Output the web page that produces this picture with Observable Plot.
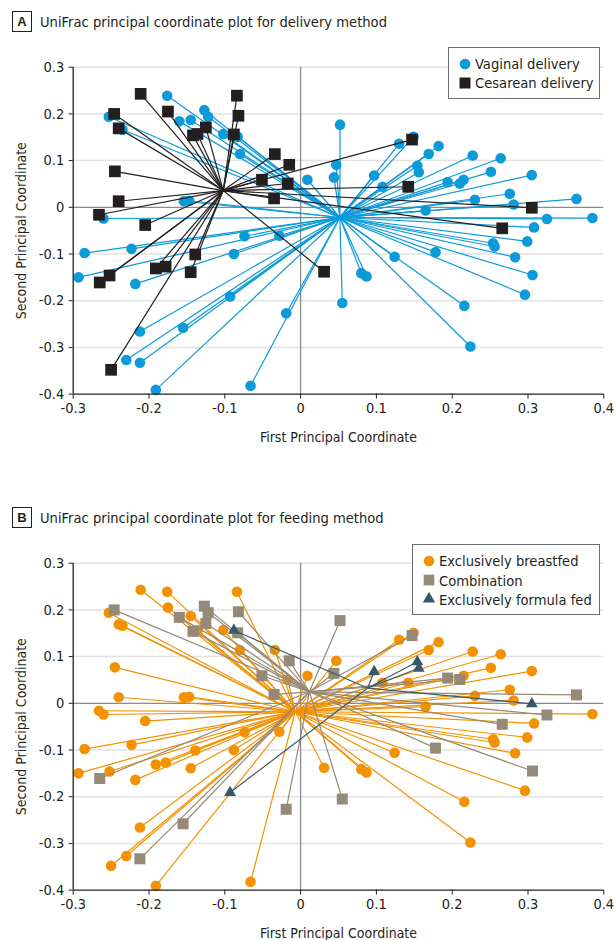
<!DOCTYPE html>
<html>
<head>
<meta charset="utf-8">
<script src="https://cdn.jsdelivr.net/npm/d3@7"></script>
<script src="https://cdn.jsdelivr.net/npm/@observablehq/plot@0.6"></script>
<style>
  html, body { margin: 0; padding: 0; background: #fff; overflow: hidden; }
  #page { position: relative; width: 616px; height: 940px; color: #231f20;
          font-family: "Liberation Sans Narrow", "DejaVu Sans Condensed", "Roboto Condensed", "Open Sans", sans-serif; }
  .chart { position: absolute; left: 0; }
  .hdr { position: absolute; left: 12px; height: 21px; display: flex; align-items: center; }
  .tag { box-sizing: border-box; width: 20px; height: 21px; border: 1.3px solid #231f20; font-weight: bold;
         font-size: 13px; display: flex; align-items: center; justify-content: center; font-family: "Liberation Sans", sans-serif; }
  .ttl { margin-left: 8px; font-size: 14.6px; white-space: nowrap; }
  .legend { position: absolute; box-sizing: border-box; border: 1.3px solid #6d6e71; background: #fff; padding: 6px 6px 5px 9px; }
  .item { display: flex; align-items: center; height: 19.3px; font-size: 14.6px; white-space: nowrap; }
  .item svg { margin-right: 3px; flex-shrink: 0; }
</style>
</head>
<body>
<div id="page"></div>
<script>
// ---- data ----
const deliveryNames = ["Vaginal delivery", "Cesarean delivery"];
const feedingNames = ["Exclusively breastfed", "Combination", "Exclusively formula fed"];
const xTicks = [-0.3, -0.2, -0.1, 0, 0.1, 0.2, 0.3, 0.4];
const yTicks = [-0.4, -0.3, -0.2, -0.1, 0, 0.1, 0.2, 0.3];

// vaginal-delivery samples: first & second principal coordinate, feeding code (0 EBF, 1 combination, 2 formula)
const vaginalX = [-0.176,-0.253,-0.235,-0.160,-0.145,-0.127,-0.122,-0.102,-0.083,-0.080,-0.154,-0.147,-0.260,
  0.009,0.044,0.047,0.052,0.130,0.149,0.182,0.169,0.154,0.156,0.097,0.108,0.227,0.264,0.251,0.305,0.194,0.210,
  0.215,0.276,0.364,0.230,0.281,0.165,0.325,0.385,0.308,0.299,0.254,0.256,0.283,0.178,0.124,0.306,0.296,0.080,
  0.087,0.055,0.216,0.224,-0.285,-0.223,-0.074,-0.028,-0.088,-0.293,-0.218,-0.093,-0.155,-0.212,-0.230,-0.212,
  -0.191,-0.066,-0.019];
const vaginalY = [0.239,0.194,0.166,0.184,0.187,0.208,0.194,0.157,0.151,0.114,0.013,0.014,-0.024,
  0.059,0.064,0.091,0.177,0.136,0.151,0.131,0.114,0.089,0.075,0.068,0.044,0.111,0.105,0.076,0.069,0.054,0.051,
  0.059,0.029,0.018,0.016,0.006,-0.007,-0.025,-0.023,-0.043,-0.073,-0.077,-0.084,-0.107,-0.096,-0.106,-0.145,-0.187,-0.141,
  -0.148,-0.205,-0.211,-0.298,-0.098,-0.089,-0.062,-0.061,-0.100,-0.150,-0.164,-0.191,-0.258,-0.266,-0.327,-0.333,
  -0.391,-0.382,-0.227];
const vaginalFeed = [0,0,0,1,0,1,1,0,1,0,0,0,0,
  0,1,0,1,0,0,0,0,2,2,2,0,0,0,0,0,1,1,
  0,0,1,0,0,0,1,0,0,0,0,0,0,1,0,1,0,0,
  0,1,0,0,0,0,0,0,0,0,0,2,1,0,0,1,
  0,0,1];

// cesarean-delivery samples
const cesareanX = [-0.211,-0.246,-0.240,-0.175,-0.084,-0.082,-0.142,-0.136,-0.125,-0.088,-0.034,-0.015,-0.051,
  -0.017,-0.035,-0.245,-0.240,-0.266,-0.205,0.147,0.142,0.305,0.266,-0.265,-0.252,-0.191,-0.178,-0.145,-0.139,
  0.031,-0.250];
const cesareanY = [0.243,0.200,0.169,0.205,0.239,0.196,0.154,0.157,0.171,0.156,0.114,0.091,0.059,
  0.051,0.019,0.077,0.013,-0.016,-0.038,0.145,0.044,-0.001,-0.045,-0.161,-0.146,-0.131,-0.127,-0.139,-0.101,
  -0.138,-0.348];
const cesareanFeed = [0,1,0,0,0,1,1,0,1,2,0,1,1,
  0,1,0,0,0,0,1,0,2,1,1,0,0,0,0,0,
  0,0];

// ---- build table ----
const samples = [];
vaginalX.forEach((x, i) => samples.push({x, y: vaginalY[i], delivery: deliveryNames[0], feeding: feedingNames[vaginalFeed[i]]}));
cesareanX.forEach((x, i) => samples.push({x, y: cesareanY[i], delivery: deliveryNames[1], feeding: feedingNames[cesareanFeed[i]]}));

const FONT = '"Liberation Sans Narrow", "DejaVu Sans Condensed", "Roboto Condensed", "Open Sans", sans-serif';
const fmt = d => d === 0 ? "0" : d.toFixed(1);

function spider(key, groups) {
  const marks = [
    Plot.gridY(yTicks.filter(d => d !== 0 && d !== -0.4), {stroke: "#e2e2e2", strokeOpacity: 1, strokeWidth: 1.5}),
    Plot.ruleX([0], {stroke: "#8c8c8c", strokeWidth: 1.3}),
    Plot.ruleY([0], {stroke: "#8c8c8c", strokeWidth: 1.3})
  ];
  for (const g of groups) {
    const rows = samples.filter(d => d[key] === g.name);
    const cx = d3.mean(rows, d => d.x), cy = d3.mean(rows, d => d.y);
    marks.push(Plot.link(rows, {x1: "x", y1: "y", x2: () => cx, y2: () => cy, stroke: g.color, strokeWidth: 1.2}));
    marks.push(Plot.dot(rows, {x: "x", y: "y", symbol: g.symbol, r: g.r, fill: g.color, stroke: "none"}));
  }
  marks.push(
    Plot.ruleX([-0.3], {stroke: "#231f20", strokeWidth: 1.3}),
    Plot.ruleY([-0.4], {stroke: "#231f20", strokeWidth: 1.3}),
    Plot.axisX({ticks: xTicks, tickFormat: fmt, tickSize: 5, tickPadding: 4, fontSize: 14.5, label: null}),
    Plot.axisY({ticks: yTicks, tickFormat: fmt, tickSize: 4, tickPadding: 5, fontSize: 14.5, label: null}),
    Plot.text(["First Principal Coordinate"], {frameAnchor: "bottom", textAnchor: "middle", lineAnchor: "middle",
      dy: 43.5, fontSize: 14, text: d => d}),
    Plot.text(["Second Principal Coordinate"], {frameAnchor: "left", textAnchor: "middle", lineAnchor: "middle",
      rotate: -90, dx: -52, fontSize: 14, text: d => d})
  );
  return Plot.plot({
    width: 616, height: 449,
    marginLeft: 72.7, marginRight: 12.7, marginTop: 66.7, marginBottom: 55.4,
    x: {domain: [-0.3, 0.4]},
    y: {domain: [-0.4, 0.3]},
    style: {fontFamily: FONT, color: "#231f20", background: "transparent", overflow: "visible"},
    marks
  });
}

const page = document.getElementById("page");

function symbolSvg(sym, color, r) {
  const s = 14;
  const path = d3.symbol(sym, Math.PI * r * r)();
  return `<svg width="${s}" height="${s}" viewBox="${-s/2} ${-s/2} ${s} ${s}"><path d="${path}" fill="${color}"/></svg>`;
}

function addPanel(top, letter, title, key, groups, legendBox) {
  const hdr = document.createElement("div");
  hdr.className = "hdr";
  hdr.style.top = (top + 11.3) + "px";
  hdr.innerHTML = `<div class="tag">${letter}</div><div class="ttl">${title}</div>`;
  page.appendChild(hdr);

  const chart = spider(key, groups);
  chart.classList.add("chart");
  chart.style.top = top + "px";
  page.appendChild(chart);

  const leg = document.createElement("div");
  leg.className = "legend";
  leg.style.left = legendBox.left + "px";
  leg.style.top = (top + legendBox.top) + "px";
  leg.style.width = legendBox.width + "px";
  leg.innerHTML = groups.map(g =>
    `<div class="item">${symbolSvg(g.d3symbol, g.color, g.lr)}<span>${g.name}</span></div>`).join("");
  page.appendChild(leg);
}

addPanel(0, "A", "UniFrac principal coordinate plot for delivery method", "delivery", [
  {name: deliveryNames[0], color: "#0a9bd8", symbol: "circle", r: 5.3, d3symbol: d3.symbolCircle, lr: 5.3},
  {name: deliveryNames[1], color: "#231f20", symbol: "square", r: 6.6, d3symbol: d3.symbolSquare, lr: 6.2}
], {left: 448, top: 47, width: 152});

addPanel(495.6, "B", "UniFrac principal coordinate plot for feeding method", "feeding", [
  {name: feedingNames[0], color: "#f39200", symbol: "circle", r: 5.3, d3symbol: d3.symbolCircle, lr: 5.3},
  {name: feedingNames[1], color: "#958978", symbol: "square", r: 6.2, d3symbol: d3.symbolSquare, lr: 6.0},
  {name: feedingNames[2], color: "#36596a", symbol: "triangle", r: 4.4, d3symbol: d3.symbolTriangle, lr: 4.6}
], {left: 412, top: 48.5, width: 188});
</script>
</body>
</html>
